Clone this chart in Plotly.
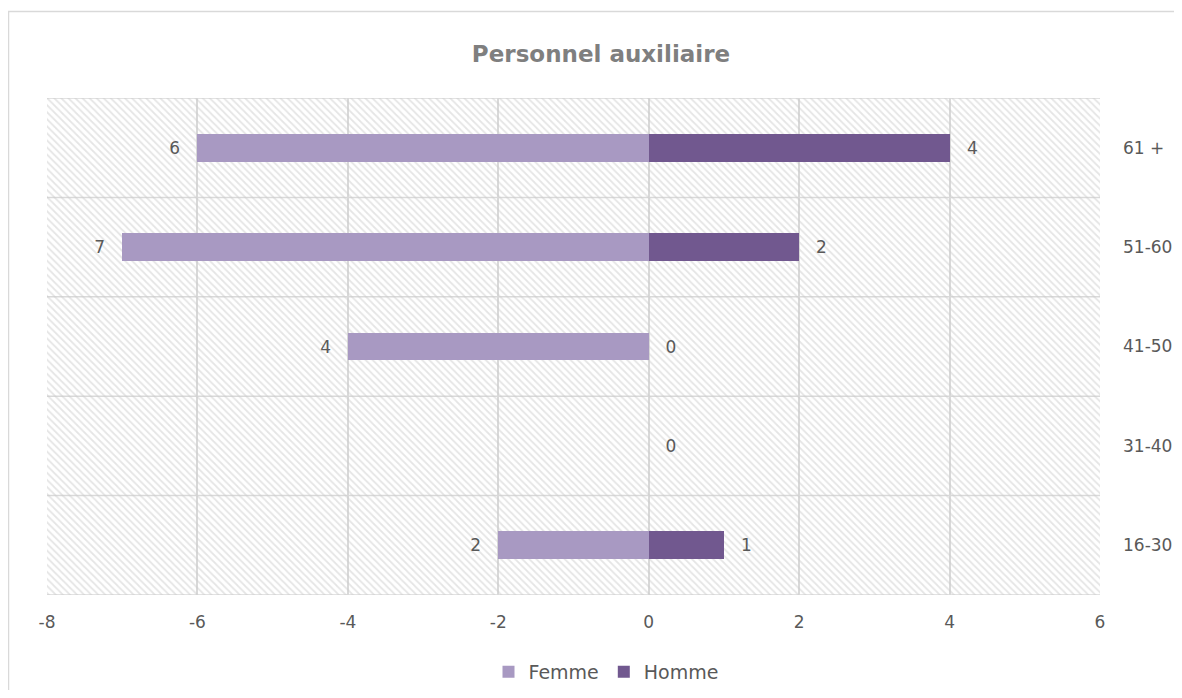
import plotly.graph_objects as go

categories = ["16-30", "31-40", "41-50", "51-60", "61 +"]
femme = [2, None, 4, 7, 6]
homme = [1, 0, 0, 2, 4]
x_ticks = [-8, -6, -4, -2, 0, 2, 4, 6]
x_tick_labels = ["-8", "-6", "-4", "-2", "0", "2", "4", "6"]

FONT = "DejaVu Sans"
TXT = "#595959"
C_F = "#A899C2"
C_H = "#71588F"
GRID = "#d9d9d9"
PAD = "\u2002\u00a0"

# page offset (body margin) = 8px
OFF = 8
FW, FH = 1182 - 2 * OFF, 698 - 2 * OFF
PL, PR, PT, PB = 47, 1100, 98, 595  # plot area in page px
L = PL - OFF
T = PT - OFF
R = FW - (PR - OFF)
B = FH - (PB - OFF)
W, H = PR - PL, PB - PT

fig = go.Figure()

# hatched background
fig.add_trace(go.Bar(
    y=categories, x=[x_ticks[-1] - x_ticks[0]] * len(categories), base=x_ticks[0],
    orientation="h", width=1,
    marker=dict(color="rgba(0,0,0,0)", line=dict(width=0),
                pattern=dict(shape="\\", fgcolor="#cccccc", bgcolor="rgba(0,0,0,0)",
                             size=5, solidity=0.35)),
    hoverinfo="skip", showlegend=False))

fig.add_trace(go.Bar(
    y=categories, x=[-v if v is not None else None for v in femme],
    orientation="h", name="Femme", width=0.28,
    marker=dict(color=C_F, line=dict(width=0)),
    text=[str(v) + PAD if v is not None else "" for v in femme],
    textposition="outside", cliponaxis=False,
    textfont=dict(family=FONT, size=17, color=TXT)))

fig.add_trace(go.Bar(
    y=categories, x=homme,
    orientation="h", name="Homme", width=0.28,
    marker=dict(color=C_H, line=dict(width=0)),
    text=[PAD + str(v) for v in homme],
    textposition="outside", cliponaxis=False,
    textfont=dict(family=FONT, size=17, color=TXT)))

shapes = []
for i in range(len(categories) + 1):
    shapes.append(dict(type="line", xref="x", yref="y", x0=x_ticks[0], x1=x_ticks[-1],
                       y0=i - 0.5, y1=i - 0.5, line=dict(color=GRID, width=1.5), layer="below"))
# outer chart border (top and left visible)
shapes.append(dict(type="rect", xref="paper", yref="paper",
                   x0=(OFF + 0.5 - PL) / W, x1=(1300 - PL) / W,
                   y0=(PB - 900) / H, y1=(PB - 11.5) / H,
                   line=dict(color="#d9d9d9", width=1.5), fillcolor="rgba(0,0,0,0)", layer="below"))

fig.update_layout(
    width=FW, height=FH,
    barmode="overlay",
    paper_bgcolor="white", plot_bgcolor="white",
    margin=dict(l=L, r=R, t=T, b=B, autoexpand=False),
    title=dict(text="<b>Personnel auxiliaire</b>", x=(601 - OFF) / FW, xref="container", xanchor="center",
               y=1 - (54 - OFF) / FH, yref="container", yanchor="middle",
               font=dict(family=FONT, size=23, color="#7f7f7f")),
    xaxis=dict(range=[x_ticks[0], x_ticks[-1]], tickvals=x_ticks, ticktext=x_tick_labels,
               showgrid=True, gridcolor=GRID, gridwidth=1.5, zeroline=False, showline=False,
               ticks="", ticklabelstandoff=15,
               tickfont=dict(family=FONT, size=17, color=TXT)),
    yaxis=dict(categoryorder="array", categoryarray=categories, range=[-0.5, 4.5],
               side="right", showgrid=False, zeroline=False, showline=False, ticks="",
               ticklabelstandoff=22,
               tickfont=dict(family=FONT, size=17, color=TXT)),
    legend=dict(orientation="h", x=(606 - PL) / W, xanchor="center",
                y=(PB - 672) / H, yanchor="middle",
                font=dict(family=FONT, size=19, color=TXT), itemwidth=30,
                traceorder="normal"),
    shapes=shapes,
    bargap=0,
)

fig.write_html("out.html")
